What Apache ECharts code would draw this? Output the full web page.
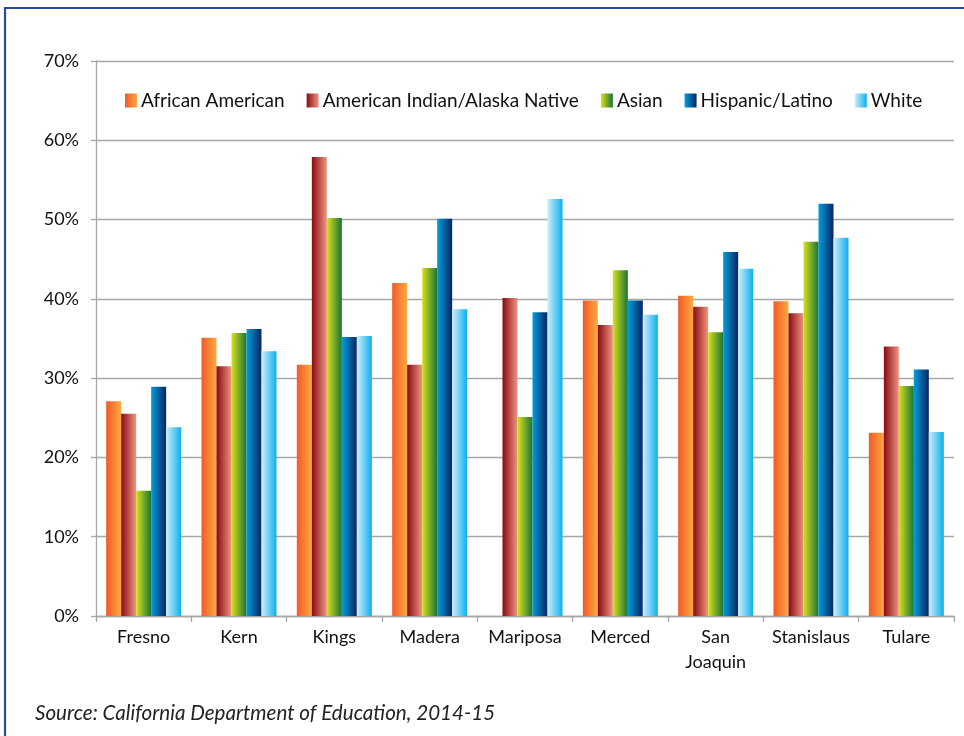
<!DOCTYPE html>
<html>
<head>
<meta charset="utf-8">
<script src="https://cdn.jsdelivr.net/npm/echarts@6/dist/echarts.min.js"></script>
<style>html,body{margin:0;padding:0;background:#fff;}#c{width:964px;height:736px;}</style>
</head>
<body>
<div id="c"></div>
<script>
const categories = ['Fresno', 'Kern', 'Kings', 'Madera', 'Mariposa', 'Merced', 'San\nJoaquin', 'Stanislaus', 'Tulare'];
const seriesNames = ['African American', 'American Indian/Alaska Native', 'Asian', 'Hispanic/Latino', 'White'];
const africanAmerican = [27.1, 35.1, 31.7, 42.0, null, 39.8, 40.4, 39.7, 23.1];
const americanIndian = [25.5, 31.5, 57.9, 31.7, 40.1, 36.7, 39.0, 38.2, 34.0];
const asian = [15.8, 35.7, 50.2, 43.9, 25.1, 43.6, 35.8, 47.2, 29.0];
const hispanic = [28.9, 36.2, 35.2, 50.1, 38.3, 39.8, 45.9, 52.0, 31.1];
const white = [23.8, 33.4, 35.3, 38.7, 52.6, 38.0, 43.8, 47.7, 23.2];
const yTicks = [0, 10, 20, 30, 40, 50, 60, 70];
const sourceText = 'Source: California Department of Education, 2014-15';

const gradStops = [
  ['#f15a29', '#fca940'],
  ['#8a0a12', '#ee9580'],
  ['#d8e21e', '#1b7435'],
  ['#009ddc', '#0b2563'],
  ['#cdeefc', '#0bb0ee']
];
function grad(i) {
  return new echarts.graphic.LinearGradient(0, 0, 1, 0, [
    {offset: 0, color: gradStops[i][0]},
    {offset: 1, color: gradStops[i][1]}
  ]);
}
const allData = [africanAmerican, americanIndian, asian, hispanic, white];
const FONT = 'Lato';

const chart = echarts.init(document.getElementById('c'), null, {renderer: 'canvas'});
chart.setOption({
  animation: false,
  backgroundColor: '#fff',
  textStyle: {fontFamily: FONT},
  grid: {left: 96, right: 10, top: 61, bottom: 120, containLabel: false},
  legend: {
    data: seriesNames,
    left: 120, top: 86,
    itemWidth: 12, itemHeight: 14, itemGap: 22,
    icon: 'rect',
    textStyle: {fontFamily: FONT, fontSize: 19, color: '#111', padding: [0, 0, 0, -1]}
  },
  xAxis: {
    type: 'category',
    data: categories,
    axisLine: {lineStyle: {color: '#a6a6a6', width: 1.3}},
    axisTick: {show: true, alignWithLabel: false, length: 6, lineStyle: {color: '#a6a6a6', width: 1.3}},
    axisLabel: {fontFamily: FONT, fontSize: 18, color: '#111', margin: 9, lineHeight: 25, interval: 0}
  },
  yAxis: {
    type: 'value',
    min: 0, max: 70, interval: 10,
    axisLine: {show: true, lineStyle: {color: '#a6a6a6', width: 1.3}},
    axisTick: {show: true, length: 5, lineStyle: {color: '#a6a6a6', width: 1.3}},
    axisLabel: {fontFamily: FONT, fontSize: 18, color: '#111', margin: 17, formatter: v => v + '%'},
    splitLine: {lineStyle: {color: '#a6a6a6', width: 1.3}}
  },
  series: seriesNames.map((n, i) => ({
    name: n,
    type: 'bar',
    data: allData[i],
    barWidth: 15,
    barGap: '0%',
    itemStyle: {color: grad(i)}
  })),
  graphic: [
    {
      type: 'polyline',
      shape: {points: [[5, 736], [5, 8], [964, 8]]},
      style: {stroke: '#2f4b9c', lineWidth: 2.2, fill: null},
      z: 100
    },
    {
      type: 'text',
      left: 35, top: 703,
      style: {text: sourceText, font: 'italic 20.6px ' + FONT, fill: '#222'}
    }
  ]
});
</script>
</body>
</html>
